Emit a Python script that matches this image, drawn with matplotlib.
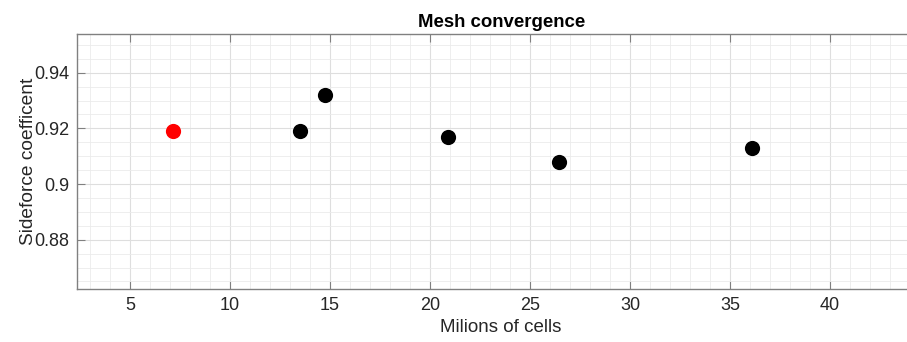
import numpy as np
import matplotlib.pyplot as plt
from matplotlib.ticker import MultipleLocator

plt.rcParams['font.family'] = ['Liberation Sans', 'DejaVu Sans']

# mesh sizes (millions of cells) and resulting side force coefficient
cells_ref = [7.17]
cs_ref = [0.919]
cells = [13.5, 14.75, 20.9, 26.47, 36.1]
cs = [0.919, 0.932, 0.917, 0.908, 0.913]

fig = plt.figure(figsize=(9.07, 3.42), dpi=100)
ax = fig.add_axes([77.3 / 907, 1 - 289 / 342, (925 - 77.3) / 907, (289 - 34) / 342])

ax.scatter(cells_ref, cs_ref, s=120, color='#ff0000', zorder=3, linewidths=0)
ax.scatter(cells, cs, s=120, color='black', zorder=3, linewidths=0)

ax.set_xlim(2.37, 44.75)
ax.set_ylim(0.8623, 0.9539)
ax.xaxis.set_major_locator(MultipleLocator(5))
ax.xaxis.set_minor_locator(MultipleLocator(1))
ax.yaxis.set_major_locator(MultipleLocator(0.02))
ax.yaxis.set_minor_locator(MultipleLocator(0.005))
ax.yaxis.set_major_formatter(plt.FuncFormatter(lambda v, p: ('%.2f' % v).rstrip('0').rstrip('.')))

ax.grid(which='major', color='#dedede', linewidth=0.8)
ax.grid(which='minor', color='#ebebeb', linewidth=0.6)
ax.set_axisbelow(True)

for side in ['left', 'bottom', 'top']:
    ax.spines[side].set_color('#808080')
    ax.spines[side].set_linewidth(1.0)
ax.spines['right'].set_visible(False)
ax.tick_params(which='major', direction='in', length=6, color='#808080',
               labelsize=13, labelcolor='#262626', top=True, pad=6)
ax.tick_params(which='minor', length=0)

ax.set_title('Mesh convergence', fontsize=13.4, fontweight='bold', pad=5)
ax.set_xlabel('Milions of cells', fontsize=13.5, color='#262626', labelpad=3)
ax.set_ylabel('Sideforce coefficent', fontsize=13.8, color='#262626', labelpad=-2)

fig.savefig('out.png', dpi=100)
